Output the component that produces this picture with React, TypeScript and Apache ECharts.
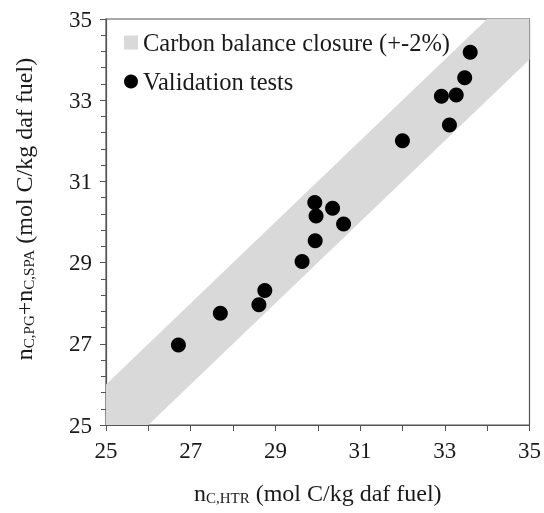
import React, { useEffect, useRef } from "react";
import * as echarts from "echarts";

const xHTR = [26.71, 27.70, 28.61, 28.75, 29.63, 29.94, 29.96, 29.93, 30.35, 30.61, 32.0, 32.92, 33.27, 33.11, 33.47, 33.60];
const yPGSPA = [26.97, 27.75, 27.96, 28.31, 29.03, 29.54, 30.15, 30.48, 30.34, 29.95, 32.0, 33.10, 33.13, 32.39, 33.55, 34.18];

// band polygon vertices (clipped to 25–35): y = x ± 1
const bandX = [25, 26, 35, 35, 34, 25];
const bandY = [25, 25, 34, 35, 35, 26];

const xTicks = [25, 27, 29, 31, 33, 35];
const yTicks = [25, 27, 29, 31, 33, 35];

const FONT = "Liberation Serif";
const AXIS = "#555555";
const TXT = "#1a1a1a";

export default function App() {
  const ref = useRef<HTMLDivElement>(null);
  useEffect(() => {
    if (!ref.current) return;
    const chart = echarts.init(ref.current, null, { renderer: "svg" });
    const bandData = bandX.map((x, i) => [x, bandY[i]]);
    const rich = {
      m: { fontFamily: FONT, fontSize: 24, color: TXT, lineHeight: 28, verticalAlign: "bottom" },
      s: { fontFamily: FONT, fontSize: 15, color: TXT, lineHeight: 11, verticalAlign: "bottom" },
    };
    chart.setOption({
      animation: false,
      textStyle: { fontFamily: FONT, color: TXT },
      grid: { left: 106, right: 13, top: 19, bottom: 88, show: true, borderColor: AXIS, borderWidth: 1.2 },
      legend: {
        left: 119,
        top: 25,
        orient: "vertical",
        itemGap: 14,
        itemWidth: 14,
        itemHeight: 14,
        textStyle: { fontFamily: FONT, fontSize: 24.5, color: TXT },
        data: [
          { name: "Carbon balance closure (+-2%)", icon: "rect", itemStyle: { color: "#d9d9d9" } },
          { name: "Validation tests", icon: "circle" },
        ],
      },
      xAxis: {
        type: "value",
        min: xTicks[0],
        max: xTicks[xTicks.length - 1],
        interval: 2,
        name: "{m|n}{s|C,HTR}{m| (mol C/kg daf fuel)}",
        nameLocation: "middle",
        nameGap: 52,
        nameTextStyle: { fontFamily: FONT, rich },
        axisLine: { lineStyle: { color: AXIS, width: 1.2 } },
        axisTick: { length: 6, lineStyle: { color: AXIS } },
        minorTick: { show: true, splitNumber: 2, length: 6, lineStyle: { color: AXIS } },
        splitLine: { show: false },
        axisLabel: { fontFamily: FONT, fontSize: 23, color: TXT, margin: 14 },
      },
      yAxis: {
        type: "value",
        min: yTicks[0],
        max: yTicks[yTicks.length - 1],
        interval: 2,
        name: "{m|n}{s|C,PG}{m|+n}{s|C,SPA}{m| (mol C/kg daf fuel)}",
        nameLocation: "middle",
        nameGap: 70,
        nameTextStyle: { fontFamily: FONT, rich, padding: [0, 0, 0, 26] },
        axisLine: { lineStyle: { color: AXIS, width: 1.2 } },
        axisTick: { length: 6, lineStyle: { color: AXIS } },
        minorTick: { show: true, splitNumber: 5, length: 5, lineStyle: { color: AXIS } },
        splitLine: { show: false },
        axisLabel: { fontFamily: FONT, fontSize: 23, color: TXT, margin: 14 },
      },
      series: [
        {
          name: "Carbon balance closure (+-2%)",
          type: "custom",
          itemStyle: { color: "#d9d9d9" },
          data: [0],
          renderItem: (params: any, api: any) => {
            const pts = bandData.map((p) => api.coord(p));
            return { type: "polygon", shape: { points: pts }, style: { fill: "#d9d9d9" } };
          },
          z: 1,
        },
        {
          name: "Validation tests",
          type: "scatter",
          symbol: "circle",
          symbolSize: 15,
          itemStyle: { color: "#000000", opacity: 1 },
          data: xHTR.map((x, i) => [x, yPGSPA[i]]),
          z: 3,
        },
      ],
    });
    return () => chart.dispose();
  }, []);
  return <div ref={ref} style={{ position: "fixed", left: 0, top: 0, width: 544, height: 513 }} />;
}
